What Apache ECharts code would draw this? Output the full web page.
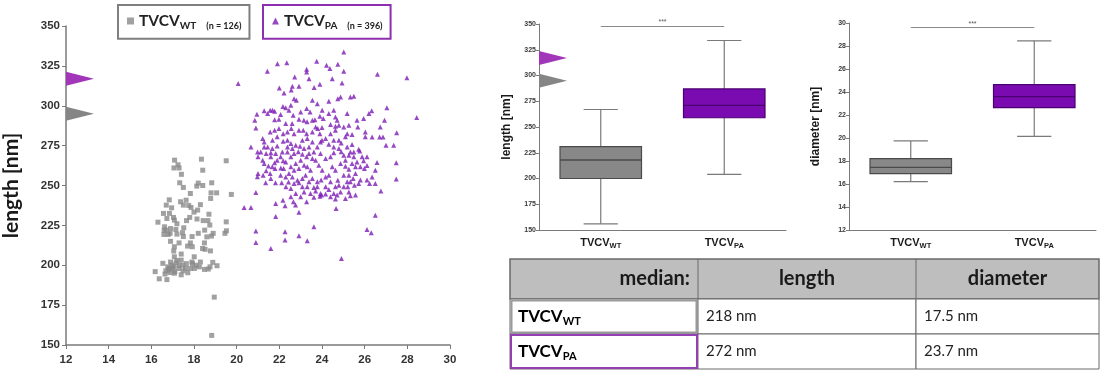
<!DOCTYPE html>
<html>
<head>
<meta charset="utf-8">
<script src="https://cdn.jsdelivr.net/npm/echarts@6/dist/echarts.min.js"></script>
<style>
  html, body { margin: 0; padding: 0; background: #fff; }
  #chart { width: 1100px; height: 372px; }
</style>
</head>
<body>
<div id="chart"></div>
<script>
// scatter: [diameter nm, length nm]
const wtPoints = [
  [18.95,180],[18.83,156],[16.18,196],[16.37,191.5],[16.73,191],[16.64,194.5],[16.31,227],[16.57,232.5],[16.7,237.7],[16.84,241],
  [17.09,265.9],[17.25,263],[17.06,261],[17.3,261],[17.41,257],[17.33,251.7],[17.5,248.8],[18.35,266.5],[18.41,259.6],[17.83,245],
  [18.13,249.6],[18.2,251.5],[18.41,250],[18.83,251.7],[18.8,245.4],[18.78,241.9],[19.06,245.4],[19.51,265.5],[19.75,244.4],[19.51,227.2],
  [19.52,221.6],[19.45,220],[18.9,220],[18.74,225.2],[18.6,217.8],[18.82,218.3],[18.4,210.5],[18.52,210],[18.77,209],[18.49,214],
  [18.65,228],[18.43,228],[18.14,229],[18.0,233.3],[18.17,234.6],[17.86,236.2],[17.75,237.5],[17.63,240.8],[17.37,239.8],[17.5,237.7],
  [17.8,230],[17.65,228],[17.52,223.5],[17.46,220.4],[17.5,218],[17.91,218],[17.83,214],[17.92,211.6],[18.01,205.3],[17.93,201],
  [17.64,201],[17.47,200],[17.4,203.2],[17.08,205.3],[17.05,208.9],[17.08,211.6],[17.2,219.5],[17.15,222.4],[17.08,228.3],[17.04,230],
  [16.85,232.5],[16.73,229.3],[16.62,224.1],[16.7,222],[16.79,219.3],[16.59,219.3],[16.6,222],[16.9,223],[16.88,220],[16.96,200],
  [16.77,199],[16.68,196.5],[16.85,198],[17.05,199],[17.16,201.5],[17.29,198],[17.49,196.5],[17.71,195.3],[17.83,198],[18.02,198],
  [18.25,199],[18.49,197.4],[18.67,197.6],[18.88,201.8],[19.08,199.7],[18.75,199],[17.4,194],[17.08,195],[16.87,195.4],[16.54,201.2],
  [17.0,198],[17.1,196],[16.9,202],[17.2,203],[17.3,200],[16.8,197],[17.6,198],[17.9,202],[18.1,200],[18.3,202],
  [17.4,207],[17.7,212],[16.9,215],[17.3,214],[18.2,220],[18.5,222],[17.2,226],[16.95,236],[18.3,238],[18.7,232]
];
const paPoints = [
  [25.02,333.7],[21.91,326.4],[22.35,327],[21.44,321.6],[23.75,327.9],[24.21,325.4],[24.74,326],[25.02,321.6],[26.6,319.7],[27.98,317.6],
  [28.44,292.6],[23.28,322.9],[23.28,321.2],[24.37,323.3],[20.07,313.9],[22.72,318],[23.39,317],[24.48,317],[24.94,314.3],[22.61,312.2],
  [22.92,312.2],[23.63,311.4],[23.9,313.5],[22.0,311.2],[22.22,308],[22.56,309.8],[25.33,305.5],[25.49,306],[24.87,305.5],[24.74,304.4],
  [24.32,302.8],[22.69,304.4],[22.8,303.4],[22.17,299.6],[22.3,298.8],[27.04,298.8],[20.95,294.7],[21.29,296.8],[21.57,297.2],[21.68,297.2],
  [20.85,290.9],[20.9,286.1],[26.93,290.9],[26.33,296.8],[26.2,295.1],[25.95,292],[26.73,286.7],[27.5,283],[27.48,264.2],[27.48,254],
  [27.36,275.2],[27.0,275.2],[26.86,280.4],[26.7,280.4],[26.35,280.4],[26.76,246.5],[26.5,259.6],[26.58,264.4],[26.5,231.4],[26.11,222.4],
  [26.31,220.4],[24.66,235.6],[23.62,224.1],[23.31,215.3],[22.92,218.5],[22.27,221],[22.27,215.8],[21.6,210.5],[20.9,221.4],[20.9,214.3],
  [24.91,204.3],[21.83,230.6],[22.92,233.3],[22.76,237.7],[22.27,237.3],[22.17,240.8],[21.83,238.7],[20.35,236.2],[20.67,236.2],[20.9,245.6],
  [21.36,251.7],[25.33,243.5],[25.57,244],[24.63,241.5],[24.55,245],[23.46,245],[23.28,239.8],[23.98,244],[24.17,244.6],[23.62,248.7],
  [24.87,246],[20.67,274.2],[20.98,271],[21.0,268],[21.29,274.2],[21.29,277.3],[21.45,274.2],[21.38,270],[21.29,263.8],[21.49,262.3],
  [21.38,259.2],[20.97,255.5],[21.0,257.5],[21.24,256.5],[21.57,257.5],[21.8,260.6],[22.07,261],[22.2,260.6],[22.43,252.2],[22.11,251.7],
  [21.78,264.2],[22.18,265.5],[21.83,270],[21.9,274.8],[22.18,277.8],[21.78,284.7],[21.9,280.6],[21.68,278.4],[21.78,291.3],[21.98,291.5],
  [22.06,294.5],[22.3,288.8],[22.6,288.8],[22.65,294],[22.92,291.5],[23.15,290.9],[23.3,289.9],[23.67,291.3],[23.9,293.4],[24.06,292],
  [24.0,286.3],[23.9,282.5],[23.8,285.7],[24.4,288.2],[24.63,287.2],[24.63,284.7],[25.02,286.7],[25.1,280.5],[25.41,282],[25.18,274.2],
  [25.41,275.7],[25.72,272.8],[25.77,271.7],[25.88,268],[25.95,265.5],[26.11,262.5],[26.11,268],[25.99,260.6],[25.8,261.7],[25.64,264.8],
  [25.49,268],[25.57,257.5],[25.8,253.4],[25.72,251.3],[26.11,253.4],[26.23,251.3],[26.35,255.4],[26.5,251.3],[25.18,252.3],[25.33,252.3],
  [25.02,256.5],[25.26,260.2],[25.1,262],[24.87,263.8],[24.63,259.6],[24.48,261.7],[24.32,256.5],[24.17,255.4],[23.96,253.4],[23.78,252.3],
  [23.78,249.2],[24.4,252.3],[24.74,253.3],[24.79,250.2],[24.63,249.2],[24.01,259.6],[23.85,262.7],[23.7,265.9],[23.62,271],[23.93,270],
  [24.17,267],[24.4,268],[24.55,270.5],[24.79,273.2],[24.9,271.1],[24.55,274.2],[24.32,275.9],[24.17,279.4],[24.4,282.5],[24.55,278.4],
  [24.79,278.4],[24.9,276.7],[23.93,277.3],[23.78,274.2],[23.55,277.3],[23.31,279.4],[23.08,278.4],[23.28,282.5],[23.12,284.7],[22.92,284.7],
  [22.69,282.5],[22.56,285.7],[22.38,283.6],[22.38,278.4],[22.54,276.3],[22.77,275.2],[22.97,274.6],[23.16,273.2],[23.39,274.2],[22.61,273.2],
  [22.38,271],[22.54,268],[22.69,270],[22.89,271.1],[23.08,269.6],[23.28,268],[23.39,270],[23.55,267],[23.0,265.9],[22.77,263.8],
  [22.54,261.7],[22.69,259.6],[22.92,260.6],[23.16,262.7],[23.31,261.7],[23.46,259.6],[23.23,256.5],[23.08,254.4],[22.85,253.3],[22.61,255.4],
  [22.45,257.5],[22.69,251.3],[22.92,251.7],[23.39,252.3],[23.55,254.4],[22.3,264.8],[22.06,268],[21.9,265.9],[21.6,268],[21.67,273.2],
  [21.6,270.5],[21.67,261.7],[22.38,274.2],[22.14,271],[25.26,269],[25.33,271],[25.49,271],[25.02,269],[25.1,265.9],[25.41,263.8],
  [25.57,261.7],[25.26,256.5],[25.46,254.4],[25.52,250.2],[25.21,249.2],[25.02,249.2],[23.7,246.6],[24.32,247.5],[23.93,245],[25.18,282.5],
  [24.79,287.8],[25.26,287.8],[25.68,286.7],[26.03,280.5],[26.03,283.6],[24.0,278.4],[23.55,283.6],[23.7,286.7],[23.55,290.9],[23.0,296.1],
  [23.28,298.2],[23.44,296.1],[23.78,301.3],[23.55,303.4],[24.01,297.2],[24.32,295.1],[24.55,297.2],[24.63,293],[25.18,295.1],[24.71,290.9],
  [25.64,290.9],[22.45,297.2],[22.54,300.3],[21.78,296.6],[21.45,295.1],[21.57,283.6],[21.98,285.7],[22.18,282.5],[21.22,279.4],[21.13,271],
  [21.22,265.9],[21.6,254.4],[21.82,251.7],[22.06,256.5],[22.3,255.4],[22.31,249.2],[22.54,248.1],[23.08,249.2],[23.16,246],[23.0,243],
  [23.31,249.2],[24.17,249.2],[24.4,243],[24.71,244],[25.1,241.9],[25.26,246],[22.77,245],[22.54,243],[22.66,239.8],[23.9,243.3],[23.62,242.6]
];
const groupNames = ['TVCV_WT', 'TVCV_PA'];
const groupCounts = [126, 396];
const boxCategories = ['WT', 'PA'];
// [min, Q1, median, Q3, max]
const lengthBox = [[156, 200, 218, 231, 267], [204, 259, 271, 287, 334]];
const diameterBox = [[16.2, 16.9, 17.45, 18.2, 19.75], [20.15, 22.65, 23.6, 24.65, 28.45]];
const flagValues = [317, 295];
const sigLength = 348;
const sigDiameter = 29.6;
const medianLength = ['218 nm', '272 nm'];
const medianDiameter = ['17.5 nm', '23.7 nm'];

const gray = '#8a8a8a';
const purple = '#7c1cb4';
const boxFill = ['#888888', '#7a0bb0'];
const boxLine = ['#4a4a4a', '#4a0070'];
const flagColors = ['#a236b8', '#858585'];

const chart = echarts.init(document.getElementById('chart'));

const subRich = (big, small, color) => ({
  m: { fontSize: big, fontWeight: 'bold', color: color, fontFamily: 'Lato', lineHeight: big + 4 },
  s: { fontSize: small, fontWeight: 'bold', color: color, fontFamily: 'Lato', verticalAlign: 'bottom', lineHeight: small - 1 }
});

function renderFlag(params, api) {
  const p = api.coord([0, api.value(0)]);
  const x = params.coordSys.x;
  return {
    type: 'polygon',
    shape: { points: [[x, p[1] - 7], [x, p[1] + 7], [x + 28, p[1]]] },
    style: { fill: flagColors[params.dataIndex] }
  };
}

function renderBox(params, api) {
  const i = api.value(0);
  const lo = api.coord([i, api.value(1)]);
  const q1 = api.coord([i, api.value(2)]);
  const md = api.coord([i, api.value(3)]);
  const q3 = api.coord([i, api.value(4)]);
  const hi = api.coord([i, api.value(5)]);
  const bw = api.size([1, 0])[0] * 0.66;
  const cw = bw * 0.42;
  const x = lo[0];
  const whisker = { stroke: '#7a7a7a', lineWidth: 1.2 };
  return {
    type: 'group',
    children: [
      { type: 'line', shape: { x1: x, y1: lo[1], x2: x, y2: q1[1] }, style: whisker },
      { type: 'line', shape: { x1: x, y1: q3[1], x2: x, y2: hi[1] }, style: whisker },
      { type: 'line', shape: { x1: x - cw / 2, y1: lo[1], x2: x + cw / 2, y2: lo[1] }, style: whisker },
      { type: 'line', shape: { x1: x - cw / 2, y1: hi[1], x2: x + cw / 2, y2: hi[1] }, style: whisker },
      { type: 'rect', shape: { x: x - bw / 2, y: q3[1], width: bw, height: q1[1] - q3[1] },
        style: { fill: boxFill[i], stroke: boxLine[i], lineWidth: 1.2 } },
      { type: 'line', shape: { x1: x - bw / 2, y1: md[1], x2: x + bw / 2, y2: md[1] },
        style: { stroke: boxLine[i], lineWidth: 1.4 } }
    ]
  };
}

const axisText = { color: '#333', fontWeight: 'bold', fontFamily: 'Liberation Sans' };

function boxYAxis(idx, name, min, max, interval) {
  return {
    type: 'value', gridIndex: idx, min: min, max: max, interval: interval,
    name: name, nameLocation: 'middle', nameGap: 26,
    nameTextStyle: { fontSize: 12, fontWeight: 'bold', color: '#1a1a1a', fontFamily: 'Liberation Sans' },
    axisLine: { show: true, lineStyle: { color: '#7a7a7a', width: 1 } },
    axisTick: { show: true, length: 3, lineStyle: { color: '#7a7a7a' } },
    axisLabel: Object.assign({ fontSize: 7, margin: 3 }, axisText, { color: '#3a3a3a' }),
    splitLine: { show: false }
  };
}

function boxXAxis(idx) {
  return {
    type: 'category', gridIndex: idx, data: boxCategories,
    axisLine: { lineStyle: { color: '#7a7a7a', width: 1 } },
    axisTick: { show: false },
    axisLabel: { margin: 5, fontWeight: 'bold', formatter: v => '{m|TVCV}{s|' + v + '}',
      rich: {
        m: { fontSize: 11, fontWeight: 'bold', color: '#1a1a1a', fontFamily: 'Liberation Sans', lineHeight: 15 },
        s: { fontSize: 7.5, fontWeight: 'bold', color: '#1a1a1a', fontFamily: 'Liberation Sans', verticalAlign: 'bottom', lineHeight: 6.5 }
      } }
  };
}

function sigMark(value) {
  return {
    silent: true, symbol: ['none', 'none'],
    lineStyle: { color: '#8a8a8a', width: 1, type: 'solid' },
    label: { show: true, position: 'middle', formatter: '***', fontSize: 7, color: '#555', distance: 0 },
    data: [[{ coord: [0, value] }, { coord: [1, value] }]]
  };
}

// table built from the median arrays
const tblX = [510, 698, 916, 1099];
const tblY = [259, 299, 334, 369];
const tableChildren = [];
tableChildren.push({ type: 'rect', shape: { x: tblX[0], y: tblY[0], width: tblX[3] - tblX[0], height: tblY[1] - tblY[0] },
  style: { fill: '#bebebe', stroke: '#6a6a6a', lineWidth: 1.5 } });
for (let r = 1; r < 3; r++) {
  for (let c = 0; c < 3; c++) {
    tableChildren.push({ type: 'rect', shape: { x: tblX[c], y: tblY[r], width: tblX[c + 1] - tblX[c], height: tblY[r + 1] - tblY[r] },
      style: { fill: '#fff', stroke: '#6a6a6a', lineWidth: 1 } });
  }
}
tableChildren.push({ type: 'line', shape: { x1: tblX[1], y1: tblY[0], x2: tblX[1], y2: tblY[1] }, style: { stroke: '#6a6a6a', lineWidth: 1 } });
tableChildren.push({ type: 'line', shape: { x1: tblX[2], y1: tblY[0], x2: tblX[2], y2: tblY[1] }, style: { stroke: '#6a6a6a', lineWidth: 1 } });
tableChildren.push({ type: 'rect', shape: { x: tblX[0] + 1.5, y: tblY[1] + 1.5, width: tblX[1] - tblX[0] - 3, height: tblY[2] - tblY[1] - 3 },
  style: { fill: 'none', stroke: '#9a9a9a', lineWidth: 2 } });
tableChildren.push({ type: 'rect', shape: { x: tblX[0] + 1, y: tblY[2] + 1, width: tblX[1] - tblX[0] - 2, height: tblY[3] - tblY[2] - 2 },
  style: { fill: 'none', stroke: '#9440b4', lineWidth: 2 } });
const headStyle = { fontSize: 20, fontWeight: 'bold', fill: '#1a1a1a', fontFamily: 'Lato', verticalAlign: 'middle' };
tableChildren.push({ type: 'text', style: Object.assign({ text: 'median:', x: tblX[1] - 8, y: (tblY[0] + tblY[1]) / 2, align: 'right' }, headStyle) });
tableChildren.push({ type: 'text', style: Object.assign({ text: 'length', x: (tblX[1] + tblX[2]) / 2, y: (tblY[0] + tblY[1]) / 2, align: 'center' }, headStyle) });
tableChildren.push({ type: 'text', style: Object.assign({ text: 'diameter', x: (tblX[2] + tblX[3]) / 2, y: (tblY[0] + tblY[1]) / 2, align: 'center' }, headStyle) });
for (let r = 0; r < 2; r++) {
  const cy = (tblY[r + 1] + tblY[r + 2]) / 2;
  tableChildren.push({ type: 'text', style: { text: '{m|TVCV}{s|' + boxCategories[r] + '}', x: tblX[0] + 8, y: cy, verticalAlign: 'middle',
    rich: subRich(17, 11, '#111') } });
  tableChildren.push({ type: 'text', style: { text: medianLength[r], x: tblX[1] + 8, y: cy, verticalAlign: 'middle',
    fontSize: 15, fill: '#222', fontFamily: 'Lato' } });
  tableChildren.push({ type: 'text', style: { text: medianDiameter[r], x: tblX[2] + 8, y: cy, verticalAlign: 'middle',
    fontSize: 15, fill: '#222', fontFamily: 'Lato' } });
}

function legendFor(i, left, color) {
  return {
    left: left, top: 5, data: [groupNames[i]],
    borderColor: color, borderWidth: 2, padding: [8, 8, 8, 9],
    itemWidth: 7, itemHeight: 7, itemGap: 6,
    formatter: name => '{m|TVCV}{s|' + name.split('_')[1] + '}   {n|(n = ' + groupCounts[i] + ')}',
    textStyle: { rich: Object.assign(subRich(15.5, 10, '#222'),
      { n: { fontSize: 9, color: '#222', fontFamily: 'Lato', fontWeight: 'bold', verticalAlign: 'bottom', lineHeight: 14 } }) }
  };
}

chart.setOption({
  animation: false,
  textStyle: { fontFamily: 'Liberation Sans' },
  legend: [legendFor(0, 118, '#7f7f7f'), legendFor(1, 263, '#8e2fb0')],
  grid: [
    { left: 64, top: 26, width: 386, height: 319 },
    { left: 539, top: 24, width: 247, height: 206 },
    { left: 849, top: 23, width: 247, height: 207 }
  ],
  xAxis: [
    {
      type: 'value', gridIndex: 0, min: 12, max: 30, interval: 2,
      axisLine: { lineStyle: { color: '#7a7a7a', width: 1.5 } },
      axisTick: { show: true, length: 4, lineStyle: { color: '#7a7a7a' } },
      axisLabel: Object.assign({ fontSize: 11.5, margin: 9 }, axisText),
      splitLine: { show: false }
    },
    boxXAxis(1),
    boxXAxis(2)
  ],
  yAxis: [
    {
      type: 'value', gridIndex: 0, min: 150, max: 350, interval: 25,
      name: 'length [nm]', nameLocation: 'middle', nameGap: 44,
      nameTextStyle: { fontSize: 21, fontWeight: 'bold', color: '#1a1a1a', fontFamily: 'Lato' },
      axisLine: { show: true, lineStyle: { color: '#7a7a7a', width: 1.5 } },
      axisTick: { show: true, length: 4, lineStyle: { color: '#7a7a7a' } },
      axisLabel: Object.assign({ fontSize: 11.5, margin: 6 }, axisText),
      splitLine: { show: false }
    },
    boxYAxis(1, 'length [nm]', 150, 350, 25),
    Object.assign(boxYAxis(2, 'diameter [nm]', 12, 30, 2), { nameGap: 27 })
  ],
  series: [
    { name: groupNames[0], type: 'scatter', xAxisIndex: 0, yAxisIndex: 0, symbol: 'rect', symbolSize: 5,
      itemStyle: { color: gray }, data: wtPoints },
    { name: groupNames[1], type: 'scatter', xAxisIndex: 0, yAxisIndex: 0, symbol: 'triangle', symbolSize: 5,
      itemStyle: { color: purple }, data: paPoints },
    { type: 'custom', xAxisIndex: 0, yAxisIndex: 0, renderItem: renderFlag, encode: { y: 0 },
      data: flagValues.map(v => [v]), silent: true },
    { type: 'custom', xAxisIndex: 1, yAxisIndex: 1, renderItem: renderFlag, encode: { y: 0 },
      data: flagValues.map(v => [v]), silent: true },
    { type: 'custom', xAxisIndex: 1, yAxisIndex: 1, renderItem: renderBox, encode: { x: 0, y: [1, 2, 3, 4, 5] },
      data: lengthBox.map((d, i) => [i].concat(d)), markLine: sigMark(sigLength) },
    { type: 'custom', xAxisIndex: 2, yAxisIndex: 2, renderItem: renderBox, encode: { x: 0, y: [1, 2, 3, 4, 5] },
      data: diameterBox.map((d, i) => [i].concat(d)), markLine: sigMark(sigDiameter) }
  ],
  graphic: [{ type: 'group', children: tableChildren }]
});
</script>
</body>
</html>
